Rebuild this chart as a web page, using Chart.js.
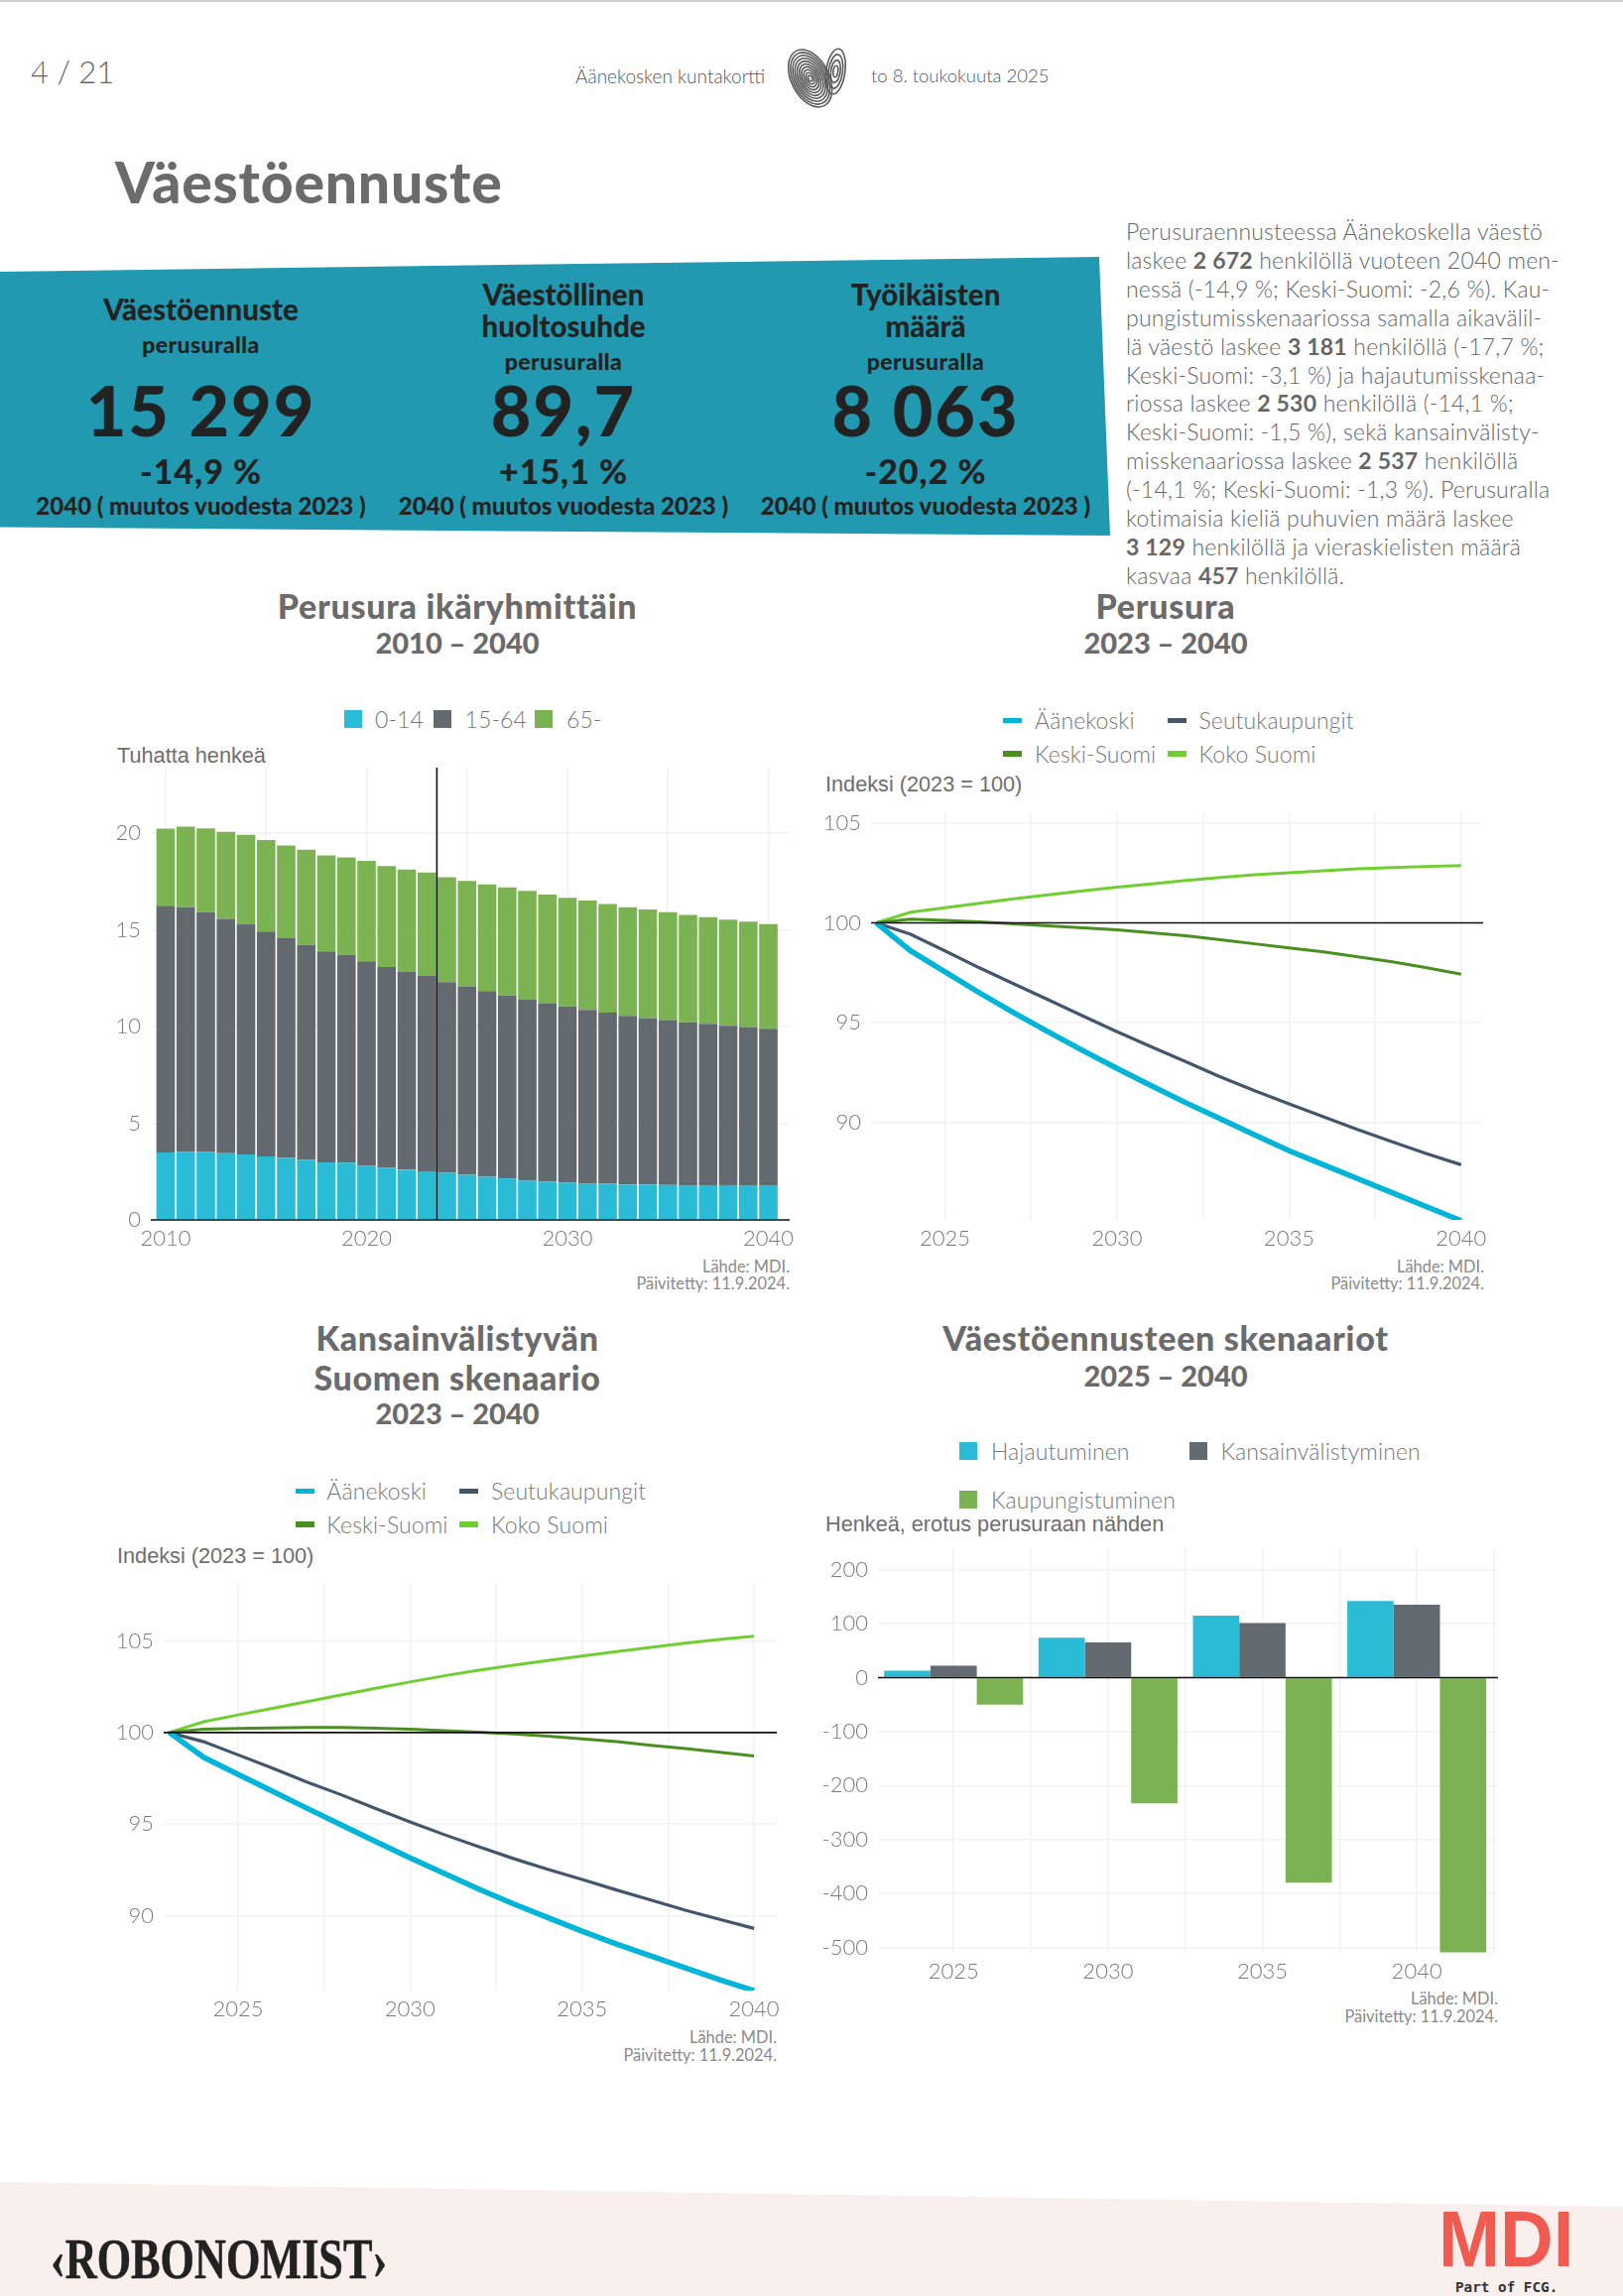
<!DOCTYPE html>
<html lang="fi">
<head>
<meta charset="utf-8">
<title>Väestöennuste</title>
<script src="https://cdn.jsdelivr.net/npm/chart.js@4"></script>
<style>
html, body { margin: 0; padding: 0; background: #fff; }
#page { position: relative; width: 1636px; height: 2315px; overflow: hidden; font-family: Lato, sans-serif; color: #6b6b6b; }
#page > canvas { position: absolute; }
.t { position: absolute; white-space: nowrap; transform: translateY(-50%); line-height: 1; }
.c { transform: translate(-50%, -50%); }
.r { transform: translate(-100%, -50%); }
.h { font-weight: 900; color: #6b6b6b; font-size: 34px; letter-spacing: 0.7px; }
.sub { font-weight: 900; color: #6b6b6b; font-size: 29px; }
.axis { font-family: "Liberation Sans", sans-serif; font-size: 21.7px; color: #6e6e6e; }
.leg { font-weight: 300; font-size: 23px; letter-spacing: 0.1px; color: #777; }
.src { font-weight: 400; font-size: 16.4px; color: #8a8a8a; }
.bh { font-weight: 900; color: #222; font-size: 29.5px; }
.bs { font-weight: 900; color: #222; font-size: 23px; letter-spacing: 0.4px; }
.bn { font-weight: 900; color: #222; font-size: 70px; letter-spacing: 2px; }
.bp { font-weight: 900; color: #222; font-size: 34px; letter-spacing: 1px; }
.bf { font-weight: 900; color: #222; font-size: 24px; }
#para { position: absolute; left: 1135px; top: 219px; font-weight: 300; font-size: 23px; letter-spacing: 0.2px; line-height: 28.9px; color: #666; white-space: nowrap; }
#para b { font-weight: 700; }
</style>
</head>
<body>
<div id="page">
  <svg width="1636" height="2315" style="position:absolute;left:0;top:0">
    <rect x="0" y="0" width="1636" height="2" fill="#cfcfcf"/>
    <polygon points="0,274 1108,259 1119,540 0,531.6" fill="#2199b1"/>
    <polygon points="0,2200 1636,2225 1636,2315 0,2315" fill="#f9efed"/>
    <g id="print" fill="none" stroke="#5a5a5a" stroke-width="1.6"></g>
  </svg>

  <div class="t" style="left:31px;top:72px;font-size:31px;font-weight:300;color:#666">4 / 21</div>
  <div class="t" style="left:580px;top:75.5px;font-size:19px;font-weight:300;color:#555">Äänekosken kuntakortti</div>
  <div class="t" style="left:878px;top:75.5px;font-size:18.5px;font-weight:300;color:#555">to 8. toukokuuta 2025</div>
  <div class="t" style="left:116px;top:183px;font-size:57px;letter-spacing:0.8px;font-weight:900">Väestöennuste</div>

  <div class="t c bh" style="left:202.5px;top:312px">Väestöennuste</div>
  <div class="t c bs" style="left:202.5px;top:347px">perusuralla</div>
  <div class="t c bn" style="left:202.5px;top:413px">15 299</div>
  <div class="t c bp" style="left:202.5px;top:475px">-14,9 %</div>
  <div class="t c bf" style="left:202.5px;top:510px">2040 ( muutos vuodesta 2023 )</div>

  <div class="t c bh" style="left:568px;top:296.5px">Väestöllinen</div>
  <div class="t c bh" style="left:568px;top:329px">huoltosuhde</div>
  <div class="t c bs" style="left:568px;top:364px">perusuralla</div>
  <div class="t c bn" style="left:568px;top:413px">89,7</div>
  <div class="t c bp" style="left:568px;top:475px">+15,1 %</div>
  <div class="t c bf" style="left:568px;top:510px">2040 ( muutos vuodesta 2023 )</div>

  <div class="t c bh" style="left:933px;top:296.5px">Työikäisten</div>
  <div class="t c bh" style="left:933px;top:329px">määrä</div>
  <div class="t c bs" style="left:933px;top:364px">perusuralla</div>
  <div class="t c bn" style="left:933px;top:413px">8 063</div>
  <div class="t c bp" style="left:933px;top:475px">-20,2 %</div>
  <div class="t c bf" style="left:933px;top:510px">2040 ( muutos vuodesta 2023 )</div>

  <div id="para">Perusuraennusteessa Äänekoskella väestö<br>laskee <b>2 672</b> henkilöllä vuoteen 2040 men-<br>nessä (-14,9 %; Keski-Suomi: -2,6 %). Kau-<br>pungistumisskenaariossa samalla aikavälil-<br>lä väestö laskee <b>3 181</b> henkilöllä (-17,7 %;<br>Keski-Suomi: -3,1 %) ja hajautumisskenaa-<br>riossa laskee <b>2 530</b> henkilöllä (-14,1 %;<br>Keski-Suomi: -1,5 %), sekä kansainvälisty-<br>misskenaariossa laskee <b>2 537</b> henkilöllä<br>(-14,1 %; Keski-Suomi: -1,3 %). Perusuralla<br>kotimaisia kieliä puhuvien määrä laskee<br><b>3 129</b> henkilöllä ja vieraskielisten määrä<br>kasvaa <b>457</b> henkilöllä.</div>

  <div class="t c h" style="left:461px;top:611px">Perusura ikäryhmittäin</div>
  <div class="t c sub" style="left:461px;top:647px">2010 – 2040</div>
  <div class="t c h" style="left:1175px;top:611px">Perusura</div>
  <div class="t c sub" style="left:1175px;top:647px">2023 – 2040</div>
  <div class="t c h" style="left:461px;top:1349px">Kansainvälistyvän</div>
  <div class="t c h" style="left:461px;top:1389px">Suomen skenaario</div>
  <div class="t c sub" style="left:461px;top:1424px">2023 – 2040</div>
  <div class="t c h" style="left:1175px;top:1349px">Väestöennusteen skenaariot</div>
  <div class="t c sub" style="left:1175px;top:1385.5px">2025 – 2040</div>

  <div class="t axis" style="left:118px;top:762px">Tuhatta henkeä</div>
  <div class="t axis" style="left:832px;top:791px">Indeksi (2023 = 100)</div>
  <div class="t axis" style="left:118px;top:1568.5px">Indeksi (2023 = 100)</div>
  <div class="t axis" style="left:832px;top:1537px">Henkeä, erotus perusuraan nähden</div>

  <div class="t r src" style="left:796px;top:1276.5px">Lähde: MDI.</div>
  <div class="t r src" style="left:796px;top:1294px">Päivitetty: 11.9.2024.</div>
  <div class="t r src" style="left:1496px;top:1276.5px">Lähde: MDI.</div>
  <div class="t r src" style="left:1496px;top:1294px">Päivitetty: 11.9.2024.</div>
  <div class="t r src" style="left:783px;top:2054px">Lähde: MDI.</div>
  <div class="t r src" style="left:783px;top:2072px">Päivitetty: 11.9.2024.</div>
  <div class="t r src" style="left:1510px;top:2015px">Lähde: MDI.</div>
  <div class="t r src" style="left:1510px;top:2032.5px">Päivitetty: 11.9.2024.</div>

  <div class="t" style="left:51px;top:2278px;font-family:'Liberation Serif',serif;font-weight:700;font-size:56px;color:#222;-webkit-text-stroke:0.5px #222;transform:translateY(-50%) scaleX(0.79);transform-origin:left center">‹ROBONOMIST›</div>
  <div class="t" style="left:1450px;top:2258px;font-family:'Liberation Sans',sans-serif;font-weight:700;font-size:80px;color:#ef5b50;transform:translateY(-50%) scaleX(0.93);transform-origin:left center">MDI</div>
  <div class="t" style="left:1467px;top:2306px;font-family:'DejaVu Sans Mono',monospace;font-weight:700;font-size:14.3px;color:#333">Part of FCG.</div>
</div>

<script>
// Perusura ikaryhmittain, tuhatta henkea
const ageYears = [2010, 2011, 2012, 2013, 2014, 2015, 2016, 2017, 2018, 2019, 2020, 2021, 2022, 2023, 2024, 2025, 2026, 2027, 2028, 2029, 2030, 2031, 2032, 2033, 2034, 2035, 2036, 2037, 2038, 2039, 2040];
const age0to14 = [3.49, 3.53, 3.51, 3.45, 3.39, 3.29, 3.21, 3.11, 2.98, 2.96, 2.80, 2.70, 2.60, 2.52, 2.44, 2.33, 2.23, 2.15, 2.03, 1.99, 1.93, 1.89, 1.87, 1.83, 1.83, 1.81, 1.80, 1.80, 1.80, 1.80, 1.80];
const age15to64 = [12.77, 12.65, 12.41, 12.12, 11.92, 11.63, 11.37, 11.12, 10.91, 10.75, 10.58, 10.38, 10.23, 10.11, 9.86, 9.75, 9.61, 9.46, 9.36, 9.22, 9.12, 8.97, 8.85, 8.73, 8.61, 8.53, 8.43, 8.35, 8.25, 8.15, 8.09];
const age65plus = [3.98, 4.17, 4.34, 4.51, 4.61, 4.74, 4.79, 4.92, 4.97, 5.05, 5.20, 5.23, 5.30, 5.34, 5.43, 5.46, 5.52, 5.59, 5.63, 5.62, 5.62, 5.67, 5.63, 5.62, 5.62, 5.58, 5.55, 5.51, 5.48, 5.48, 5.42];
const ageNames = ['0-14', '15-64', '65-'];
const ageXTicks = [2010, 2015, 2020, 2025, 2030, 2035, 2040];
const ageXLabels = [2010, 2020, 2030, 2040];
const ageYTicks = [0, 5, 10, 15, 20];

// Indeksikuvat (2023 = 100)
const indexYears = [2023, 2024, 2025, 2026, 2027, 2028, 2029, 2030, 2031, 2032, 2033, 2034, 2035, 2036, 2037, 2038, 2039, 2040];
const indexNames = ['Äänekoski', 'Seutukaupungit', 'Keski-Suomi', 'Koko Suomi'];
const indexXTicks = [2025, 2027.5, 2030, 2032.5, 2035, 2037.5, 2040];
const indexXLabels = [2025, 2030, 2035, 2040];
const indexYTicks = [90, 95, 100, 105];

const baseAanekoski = [100, 98.6, 97.55, 96.5, 95.5, 94.55, 93.62, 92.72, 91.85, 91.0, 90.2, 89.4, 88.6, 87.9, 87.2, 86.5, 85.8, 85.1];
const baseSeutu = [100, 99.43, 98.6, 97.75, 96.95, 96.15, 95.35, 94.55, 93.8, 93.05, 92.3, 91.6, 90.95, 90.3, 89.65, 89.05, 88.45, 87.9];
const baseKeski = [100, 100.18, 100.12, 100.05, 99.95, 99.85, 99.75, 99.65, 99.5, 99.35, 99.15, 98.95, 98.75, 98.55, 98.3, 98.05, 97.75, 97.43];
const baseKoko = [100, 100.53, 100.76, 100.98, 101.2, 101.4, 101.6, 101.78, 101.95, 102.12, 102.27, 102.4, 102.5, 102.6, 102.7, 102.77, 102.82, 102.86];

const intlAanekoski = [100, 98.65, 97.72, 96.8, 95.87, 94.95, 94.05, 93.15, 92.3, 91.45, 90.65, 89.9, 89.15, 88.45, 87.8, 87.15, 86.5, 85.9];
const intlSeutu = [100, 99.5, 98.78, 98.05, 97.3, 96.6, 95.85, 95.12, 94.42, 93.76, 93.12, 92.53, 91.98, 91.4, 90.85, 90.3, 89.8, 89.3];
const intlKeski = [100, 100.18, 100.22, 100.25, 100.27, 100.27, 100.24, 100.18, 100.1, 100.02, 99.92, 99.8, 99.65, 99.5, 99.3, 99.12, 98.92, 98.72];
const intlKoko = [100, 100.59, 100.96, 101.32, 101.68, 102.05, 102.42, 102.76, 103.1, 103.4, 103.68, 103.93, 104.17, 104.42, 104.65, 104.88, 105.08, 105.26];

// Skenaariot, erotus perusuraan
const scenarioYears = [2025, 2030, 2035, 2040];
const scenarioNames = ['Hajautuminen', 'Kansainvälistyminen', 'Kaupungistuminen'];
const scenarioHajautuminen = [13, 74, 115, 142];
const scenarioKansainv = [22, 65, 101, 135];
const scenarioKaupungistuminen = [-50, -233, -380, -509];
const scenarioXTicks = [2025, 2027.5, 2030, 2032.5, 2035, 2037.5, 2040, 2042.5];
const scenarioYTicks = [-500, -400, -300, -200, -100, 0, 100, 200];

const BLUE = '#2abbd7', GREY = '#62696f', GREEN = '#7cb352';
const lineColors = ['#00b5d8', '#44566c', '#4a8f20', '#6fcf30'];
const lineWidths = [5.5, 3.2, 3, 3];

const page = document.getElementById('page');

// Black reference lines, placed through the chart's own scales
const refLines = {
    id: 'refLines',
    afterDatasetsDraw(chart, args, opts) {
        const { ctx, chartArea: a, scales } = chart;
        ctx.save();
        ctx.strokeStyle = '#111';
        ctx.lineWidth = 1.6;
        ctx.beginPath();
        (opts.y || []).forEach(v => {
            const py = scales.y.getPixelForValue(v);
            ctx.moveTo(a.left, py);
            ctx.lineTo(a.right, py);
        });
        (opts.x || []).forEach(v => {
            const px = scales.x.getPixelForValue(v);
            ctx.moveTo(px, a.top);
            ctx.lineTo(px, a.bottom);
        });
        ctx.stroke();
        ctx.restore();
    }
};

// Draws one chart so that its plot area lands on the given rectangle
function drawChart(box, type, labels, datasets, xCfg, yCfg, lines) {
    const axisW = 70, axisH = 40, padTop = 26, padRight = 34;
    const canvas = document.createElement('canvas');
    const w = box.right - box.left + axisW + padRight;
    const h = box.bottom - box.top + axisH + padTop;
    canvas.width = w;
    canvas.height = h;
    canvas.style.left = (box.left - axisW) + 'px';
    canvas.style.top = (box.top - padTop) + 'px';
    page.appendChild(canvas);

    const tickFont = { family: 'Lato', size: 22, weight: 300 };
    const gridOpts = { color: '#f2f2f2', lineWidth: 1.6, drawTicks: false, offset: false };

    new Chart(canvas.getContext('2d'), {
        type,
        data: { labels, datasets },
        plugins: [refLines],
        options: {
            responsive: false,
            animation: false,
            devicePixelRatio: 1,
            layout: { padding: { top: padTop, right: padRight, left: 0, bottom: 0 } },
            plugins: { legend: { display: false }, tooltip: { enabled: false }, refLines: lines },
            scales: {
                x: {
                    type: 'linear',
                    offset: false,
                    stacked: !!xCfg.stacked,
                    min: xCfg.min,
                    max: xCfg.max,
                    grid: gridOpts,
                    border: { display: false },
                    afterBuildTicks: s => { s.ticks = xCfg.ticks.map(v => ({ value: v })); },
                    afterFit: s => { s.height = axisH; },
                    ticks: {
                        font: tickFont,
                        color: '#7a7a7a',
                        padding: 6,
                        autoSkip: false,
                        maxRotation: 0,
                        callback: v => (xCfg.labels.includes(v) ? String(v) : '')
                    }
                },
                y: {
                    stacked: !!yCfg.stacked,
                    min: yCfg.min,
                    max: yCfg.max,
                    grid: gridOpts,
                    border: { display: false },
                    afterBuildTicks: s => { s.ticks = yCfg.ticks.map(v => ({ value: v })); },
                    afterFit: s => { s.width = axisW; },
                    ticks: { font: tickFont, color: '#7a7a7a', padding: 10, callback: v => String(v) }
                }
            }
        }
    });
}

function lineSets(series) {
    return series.map((data, i) => ({
        label: indexNames[i],
        data,
        borderColor: lineColors[i],
        borderWidth: lineWidths[i],
        pointRadius: 0,
        tension: 0,
        fill: false,
        clip: 0
    }));
}

function barSets(names, series, colors, extra) {
    return series.map((data, i) => Object.assign({
        label: names[i],
        data,
        backgroundColor: colors[i],
        borderWidth: 0,
        inflateAmount: 0,
        categoryPercentage: 1,
        barPercentage: 1
    }, extra));
}

// Legend rows are plain text next to a swatch
function legendItem(name, color, swatch, textLeft, centerY, isLine) {
    const s = document.createElement('div');
    const sh = isLine ? 5.5 : 18;
    s.style.cssText = `position:absolute;left:${swatch}px;top:${centerY - sh / 2}px;width:${isLine ? 19 : 18}px;height:${sh}px;background:${color}`;
    page.appendChild(s);
    const t = document.createElement('div');
    t.className = 't leg';
    t.style.left = textLeft + 'px';
    t.style.top = centerY + 'px';
    t.textContent = name;
    page.appendChild(t);
}

// 1: Perusura ikaryhmittain
drawChart(
    { left: 152, right: 796, top: 774, bottom: 1230 }, 'bar', ageYears,
    barSets(ageNames, [age0to14, age15to64, age65plus], [BLUE, GREY, GREEN], { barPercentage: 0.92, stack: 'age' }),
    { min: 2009.26, max: 2041.06, ticks: ageXTicks, labels: ageXLabels, stacked: true },
    { min: 0, max: 23.4, ticks: ageYTicks, stacked: true },
    { y: [0], x: [2023.5] }
);
legendItem(ageNames[0], BLUE, 346.5, 378, 724.5);
legendItem(ageNames[1], GREY, 437, 468.5, 724.5);
legendItem(ageNames[2], GREEN, 539, 571, 724.5);

// 2: Perusura
drawChart(
    { left: 878.4, right: 1495.7, top: 818.5, bottom: 1229.7 }, 'line', indexYears,
    lineSets([baseAanekoski, baseSeutu, baseKeski, baseKoko]),
    { min: 2022.85, max: 2040.64, ticks: indexXTicks, labels: indexXLabels },
    { min: 85.14, max: 105.53, ticks: indexYTicks },
    { y: [100] }
);
legendItem(indexNames[0], lineColors[0], 1011, 1043, 726.4, true);
legendItem(indexNames[1], lineColors[1], 1177, 1208.5, 726.4, true);
legendItem(indexNames[2], lineColors[2], 1011, 1043, 760, true);
legendItem(indexNames[3], lineColors[3], 1177, 1208.5, 760, true);

// 3: Kansainvalistyvan Suomen skenaario
drawChart(
    { left: 164.5, right: 782.7, top: 1595.8, bottom: 2007.2 }, 'line', indexYears,
    lineSets([intlAanekoski, intlSeutu, intlKeski, intlKoko]),
    { min: 2022.84, max: 2040.66, ticks: indexXTicks, labels: indexXLabels },
    { min: 85.91, max: 108.17, ticks: indexYTicks },
    { y: [100] }
);
legendItem(indexNames[0], lineColors[0], 297.6, 329.3, 1503.4, true);
legendItem(indexNames[1], lineColors[1], 463.4, 495, 1503.4, true);
legendItem(indexNames[2], lineColors[2], 297.6, 329.3, 1537.1, true);
legendItem(indexNames[3], lineColors[3], 463.4, 495, 1537.1, true);

// 4: Vaestoennusteen skenaariot
// bar width is measured from the 2.5 year tick spacing, so 1.8 gives 4.5 years per group
drawChart(
    { left: 884.5, right: 1509.7, top: 1560.5, bottom: 1969.4 }, 'bar', scenarioYears,
    barSets(scenarioNames, [scenarioHajautuminen, scenarioKansainv, scenarioKaupungistuminen], [BLUE, GREY, GREEN], { categoryPercentage: 1.8 }),
    { min: 2022.55, max: 2042.63, ticks: scenarioXTicks, labels: scenarioYears },
    { min: -510, max: 239.8, ticks: scenarioYTicks },
    { y: [0] }
);
legendItem(scenarioNames[0], BLUE, 967.4, 999, 1463);
legendItem(scenarioNames[1], GREY, 1198.7, 1230.4, 1463);
legendItem(scenarioNames[2], GREEN, 967.4, 999, 1511.6);

// Fingerprint heart in the page header, two lobes of nested ellipses
const printGroup = document.getElementById('print');
let printPaths = '';
for (let i = 0; i < 10; i++) {
    const k = 1 - i / 10;
    printPaths += `<ellipse cx="816.7" cy="79" rx="${19 * k}" ry="${31 * k}" transform="rotate(-27 816.7 79)"/>`;
    if (i < 4) {
        printPaths += `<ellipse cx="842.3" cy="72" rx="${9.5 * (1 - i / 4)}" ry="${23 * (1 - i / 4)}" transform="rotate(8 842.3 72)"/>`;
    }
}
printGroup.innerHTML = printPaths;
</script>
</body>
</html>
